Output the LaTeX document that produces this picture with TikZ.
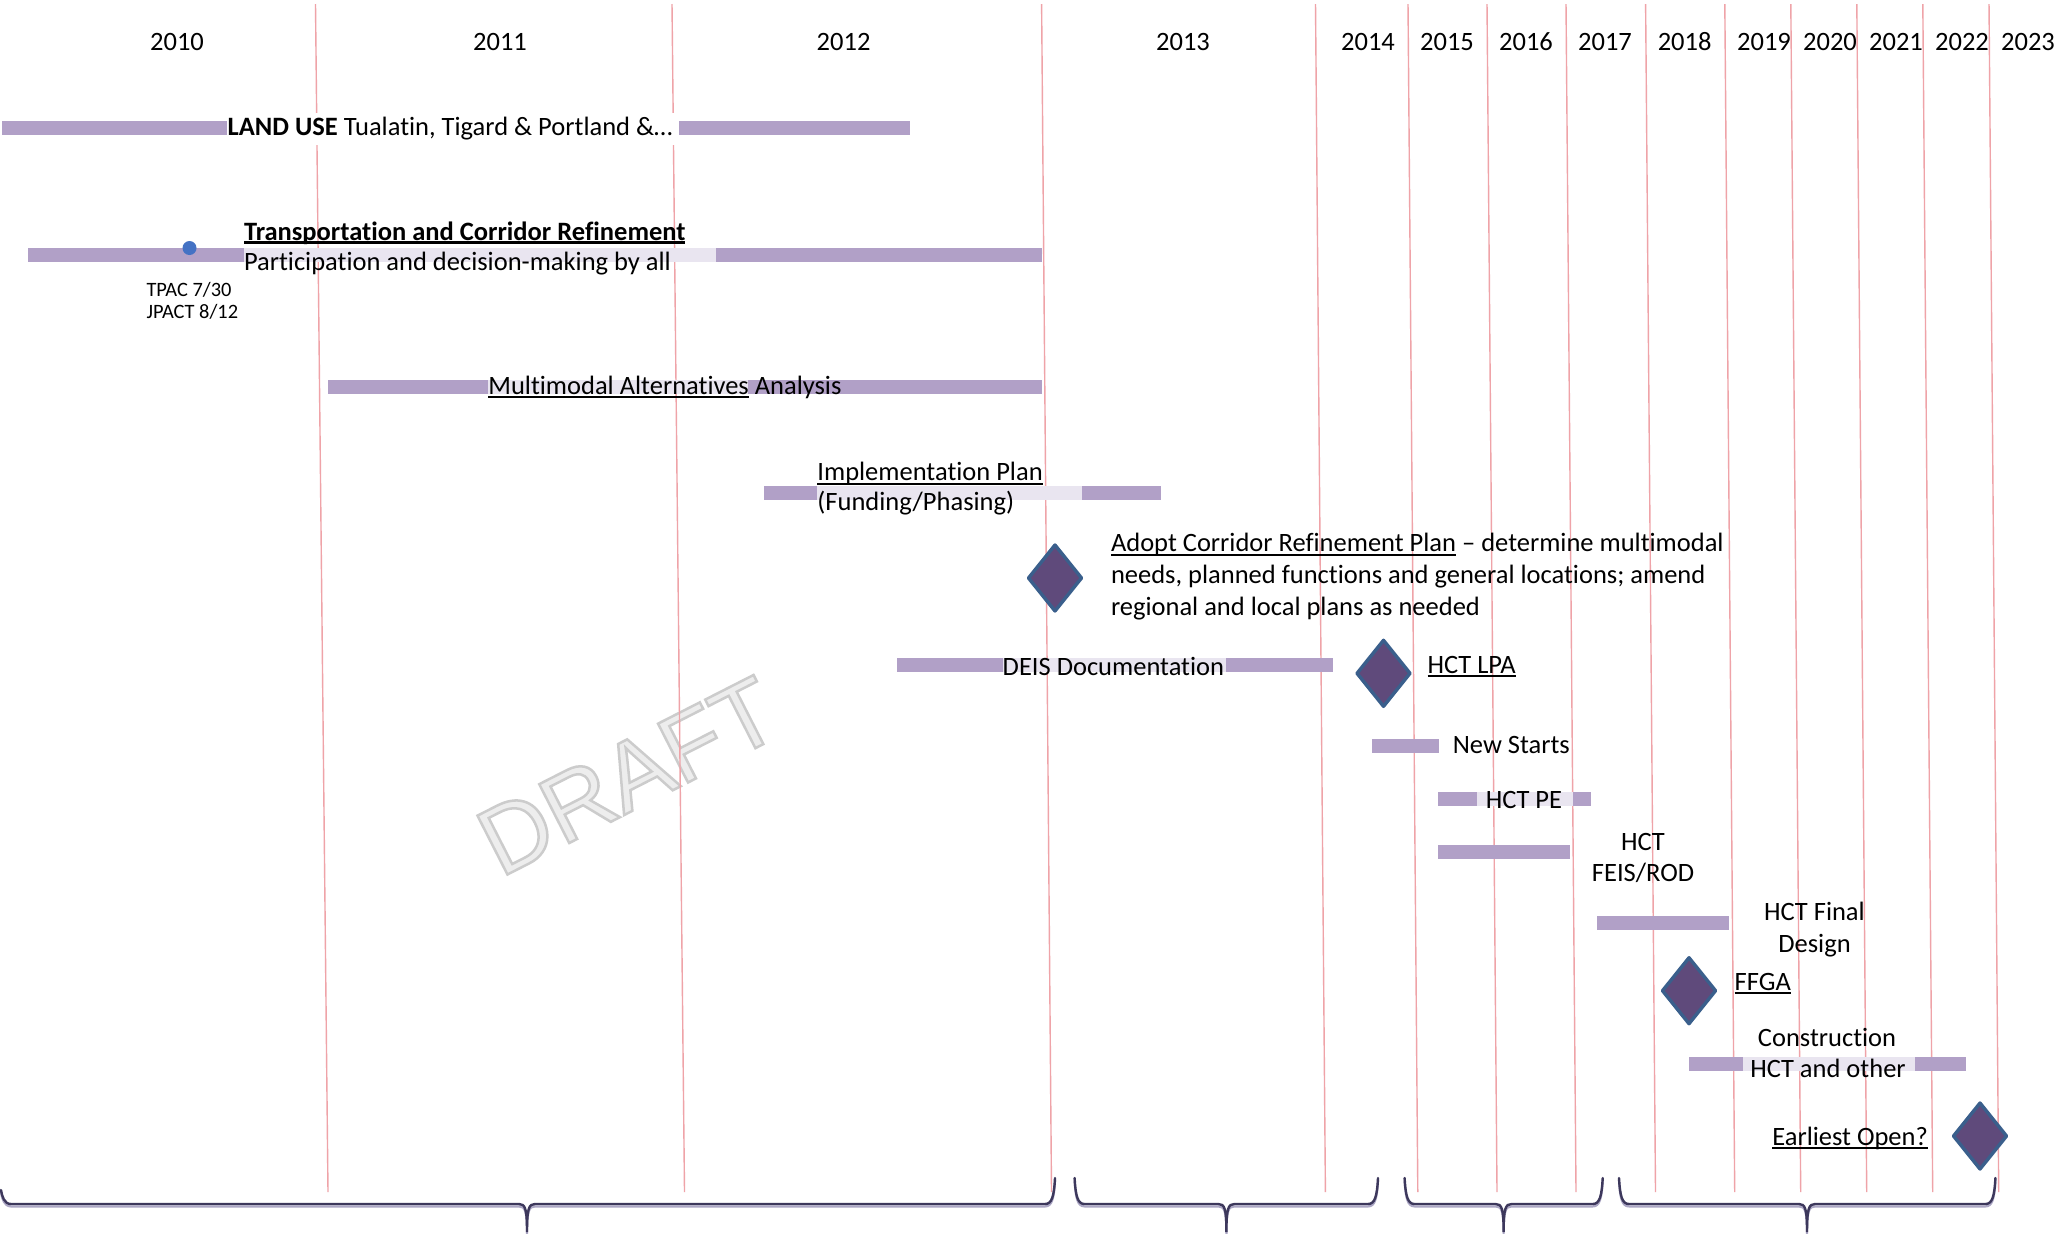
\documentclass[tikz,border=0pt]{standalone}
\usepackage{fontspec}
\setmainfont{Carlito}[Ligatures=NoCommon]
\newfontfamily\wmfont{Liberation Sans}[FakeBold=2.6]
\definecolor{barcol}{HTML}{B1A0C7}
\definecolor{palecol}{HTML}{E9E5F0}
\definecolor{gridcol}{HTML}{EFA3A8}
\definecolor{diacol}{HTML}{5F4A7B}
\definecolor{diaedge}{HTML}{3A5F8C}
\definecolor{dotblue}{HTML}{4472C4}
\definecolor{bracecol}{HTML}{3D385C}
\definecolor{braceshadow}{HTML}{ABA6C4}
\newcommand\myul[2][0.85pt]{\setbox0=\hbox{#2}\rlap{\rule[-1.9pt]{\wd0}{#1}}\box0\relax}
\newcommand\gbar[3]{\fill[barcol] (#1,#3-7) rectangle (#2,#3+7);}
\newcommand\gpale[3]{\fill[palecol] (#1,#3-7) rectangle (#2,#3+7);}
\newcommand\gdiam[2]{\draw[msty] (#1-26.5,#2) -- (#1,#2-33) -- (#1+26.5,#2) -- (#1,#2+33) -- cycle;}
\newcommand\gbrace[4]{%
  \draw[braceshadowsty,yshift=-1.2pt] (#1,#4) .. controls (#1+1,1196) and (#1+3,1204) .. (#1+10,1204) -- (#2-8,1204) .. controls (#2-2,1204) and (#2,1208) .. (#2,1232) .. controls (#2,1208) and (#2+2,1204) .. (#2+8,1204) -- (#3-10,1204) .. controls (#3-3,1204) and (#3-1,1196) .. (#3,1178);
  \draw[bracesty] (#1,#4) .. controls (#1+1,1196) and (#1+3,1204) .. (#1+10,1204) -- (#2-8,1204) .. controls (#2-2,1204) and (#2,1208) .. (#2,1232) .. controls (#2,1208) and (#2+2,1204) .. (#2+8,1204) -- (#3-10,1204) .. controls (#3-3,1204) and (#3-1,1196) .. (#3,1178);}
\begin{document}
\begin{tikzpicture}[x=0.5pt,y=-0.5pt,
  lbl/.style={inner sep=0pt, outer sep=0pt, font=\fontsize{13.25}{15.8}\selectfont},
  txt/.style={lbl, anchor=base west},
  ctr/.style={lbl, anchor=base},
  small/.style={inner sep=0pt, outer sep=0pt, anchor=base west, font=\fontsize{10.2}{11}\selectfont},
  gridsty/.style={draw=gridcol, line width=0.7pt},
  msty/.style={fill=diacol, draw=diaedge, line width=1.7pt, line join=round},
  bracesty/.style={draw=bracecol, line width=1.2pt, line cap=round},
  braceshadowsty/.style={draw=braceshadow, line width=1.1pt, line cap=round}]
\useasboundingbox (0,0) rectangle (2070,1233);
\fill[white] (0,0) rectangle (2070,1233);
% watermark
\node[rotate=27, font=\wmfont\fontsize{48}{48}\selectfont, inner sep=0pt] (draft) at (628,776)
  {\color{black!7}\special{pdf:literal direct 0.80 0.80 0.80 RG}DRAFT};
% grid lines
\foreach \t/\b in {315.5/328, 672/684.5, 1041.6/1051.5, 1315.5/1325.4, 1408/1417.8, 1487/1497, 1566/1576, 1645.6/1655.5, 1724.8/1734.7, 1790.8/1800.7, 1856.8/1866.7, 1922.8/1932.7, 1989/1998.7}
  \draw[gridsty] (\t,4) -- (\b,1192);
% years
\foreach \x/\y in {177/2010, 500/2011, 843.6/2012, 1183/2013, 1368/2014, 1447/2015, 1526/2016, 1605/2017, 1684.6/2018, 1764/2019, 1830/2020, 1896/2021, 1962/2022, 2028/2023}
  \node[ctr] (y\y) at (\x,50) {\y};
% bars
\gbar{2}{909.6}{128}
\fill[white] (227,113) rectangle (679,145);
\gbar{28.4}{1041.6}{254.7}
\gpale{244}{716}{254.7}
\gbar{328}{1041.6}{387}
\gpale{488}{748}{387}
\gbar{763.7}{1160.7}{493}
\gpale{817.4}{1081.7}{493}
\gbar{896.9}{1333}{665}
\gpale{1002.7}{1226}{665}
\gbar{1372}{1439}{746}
\gbar{1438.3}{1591.4}{799}
\gpale{1477}{1573}{799}
\gbar{1438.3}{1569.6}{852}
\gbar{1596.7}{1728.7}{922.7}
\gbar{1689}{1966.4}{1064}
\gpale{1742.6}{1914.9}{1064}
% dot
\fill[dotblue] (189.5,248) circle[radius=7];
% diamonds
\gdiam{1055}{578}
\gdiam{1383.5}{673.3}
\gdiam{1689}{990.7}
\gdiam{1980}{1136}
% texts
\node[txt] (landuse) at (227.7,135) {\textbf{LAND USE} Tualatin, Tigard \& Portland \&…};
\node[txt] (tcr) at (244,240) {\myul[1.3pt]{\textbf{Transportation and Corridor Refinement}}};
\node[txt] (part) at (244,270) {Participation and decision-making by all};
\node[small] (tpac) at (146.5,296) {TPAC 7/30};
\node[small] (jpact) at (146.5,318.5) {JPACT 8/12};
\node[txt] (mma) at (488.4,394) {\myul{Multimodal Alternatives} Analysis};
\node[txt] (impl) at (817.4,480.7) {\myul{Implementation Plan}};
\node[txt] (fund) at (817.4,510) {(Funding/Phasing)};
\node[txt] (adopt1) at (1111,551.7) {\myul{Adopt Corridor Refinement Plan} – determine multimodal};
\node[txt] (adopt2) at (1111,583.3) {needs, planned functions and general locations; amend};
\node[txt] (adopt3) at (1111,615) {regional and local plans as needed};
\node[txt] (deis) at (1002.7,675) {DEIS Documentation};
\node[txt] (lpa) at (1427.7,673.3) {\myul{HCT LPA}};
\node[txt] (ns) at (1452.8,753.3) {New Starts};
\node[txt] (pe) at (1485.8,808.3) {HCT PE};
\node[ctr] (feis1) at (1643,850) {HCT};
\node[ctr] (feis2) at (1643,881.7) {FEIS/ROD};
\node[ctr] (fd1) at (1814.5,920.7) {HCT Final};
\node[ctr] (fd2) at (1814.5,952.7) {Design};
\node[txt] (ffga) at (1734.7,990) {\myul{FFGA}};
\node[ctr] (con1) at (1827,1046.7) {Construction};
\node[ctr] (con2) at (1828,1077.3) {HCT and other};
\node[txt] (open) at (1772.3,1145) {\myul{Earliest Open?}};
% braces
\gbrace{1}{527}{1055}{1190}
\gbrace{1074.6}{1226.4}{1378}{1178}
\gbrace{1404.6}{1503.6}{1602.7}{1178}
\gbrace{1619}{1807}{1995.4}{1178}
\end{tikzpicture}
\end{document}
